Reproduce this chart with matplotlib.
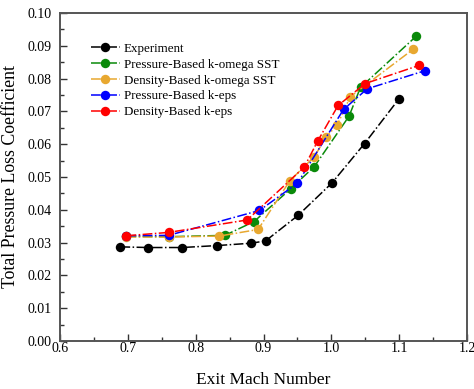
import matplotlib
matplotlib.use("Agg")
import matplotlib.pyplot as plt
from matplotlib.ticker import MultipleLocator

plt.rcParams['font.family'] = ['Liberation Serif', 'DejaVu Serif']

# experiment
exp_x = [0.689, 0.730, 0.780, 0.832, 0.881, 0.903, 0.951, 1.001, 1.049, 1.100]
exp_y = [0.0287, 0.0285, 0.0285, 0.0291, 0.0298, 0.0305, 0.0383, 0.0482, 0.0602, 0.0739]

# pressure-based k-omega SST
pb_sst_x = [0.698, 0.760, 0.843, 0.886, 0.940, 0.975, 1.026, 1.043, 1.125]
pb_sst_y = [0.0319, 0.0318, 0.0322, 0.0364, 0.0464, 0.0532, 0.0685, 0.0773, 0.0929]

# density-based k-omega SST
db_sst_x = [0.698, 0.760, 0.835, 0.892, 0.939, 0.975, 0.992, 1.009, 1.028, 1.121]
db_sst_y = [0.0317, 0.0317, 0.0320, 0.0340, 0.0489, 0.0562, 0.0621, 0.0660, 0.0745, 0.0890]

# pressure-based k-eps
pb_ke_x = [0.698, 0.760, 0.894, 0.950, 1.018, 1.053, 1.138]
pb_ke_y = [0.0321, 0.0322, 0.0398, 0.0481, 0.0706, 0.0769, 0.0824]

# density-based k-eps
db_ke_x = [0.698, 0.760, 0.876, 0.960, 0.980, 1.010, 1.050, 1.129]
db_ke_y = [0.0321, 0.0331, 0.0369, 0.0530, 0.0610, 0.0718, 0.0785, 0.0840]

series = [
    (exp_x, exp_y, "black", "Experiment"),
    (pb_sst_x, pb_sst_y, "#0a8a0a", "Pressure-Based k-omega SST"),
    (db_sst_x, db_sst_y, "#e8a830", "Density-Based k-omega SST"),
    (pb_ke_x, pb_ke_y, "#0000ff", "Pressure-Based k-eps"),
    (db_ke_x, db_ke_y, "#ff0000", "Density-Based k-eps"),
]

fig = plt.figure(figsize=(4.74, 3.89), dpi=100)
ax = fig.add_axes([60 / 474, 1 - 341 / 389, 407 / 474, 328 / 389])

for x, y, c, lab in series:
    ax.plot(x, y, linestyle="-.", color=c, linewidth=1.1, marker="o",
            markersize=6.8, markeredgewidth=0, label=lab)

ax.set_xlim(0.6, 1.2)
ax.set_ylim(0.0, 0.10)
ax.xaxis.set_major_locator(MultipleLocator(0.1))
ax.xaxis.set_minor_locator(MultipleLocator(0.05))
ax.yaxis.set_major_locator(MultipleLocator(0.01))
ax.yaxis.set_minor_locator(MultipleLocator(0.005))
ax.xaxis.set_major_formatter(plt.FuncFormatter(lambda v, p: "%.1f" % v))
ax.yaxis.set_major_formatter(plt.FuncFormatter(lambda v, p: "%.2f" % v))
ax.tick_params(which="both", direction="in", labelsize=10, colors="#333333",
               labelcolor="black", width=1.0)
ax.tick_params(which="major", length=5)
ax.tick_params(which="minor", length=3)
ax.tick_params(axis="x", which="major", pad=1)
ax.tick_params(axis="y", which="major", pad=6)
for s in ax.spines.values():
    s.set_linewidth(1.4)
    s.set_color("#555555")

ax.set_xlabel("Exit Mach Number", fontsize=12.5, labelpad=12)
ax.set_ylabel("Total Pressure Loss Coefficient", fontsize=12.8, labelpad=6)

ax.legend(loc="upper left", frameon=False, fontsize=9.4, bbox_to_anchor=(0.063, 0.925),
          handlelength=2.2, handletextpad=0.3, labelspacing=0.28, borderaxespad=0)

fig.savefig("out.png", dpi=100)
